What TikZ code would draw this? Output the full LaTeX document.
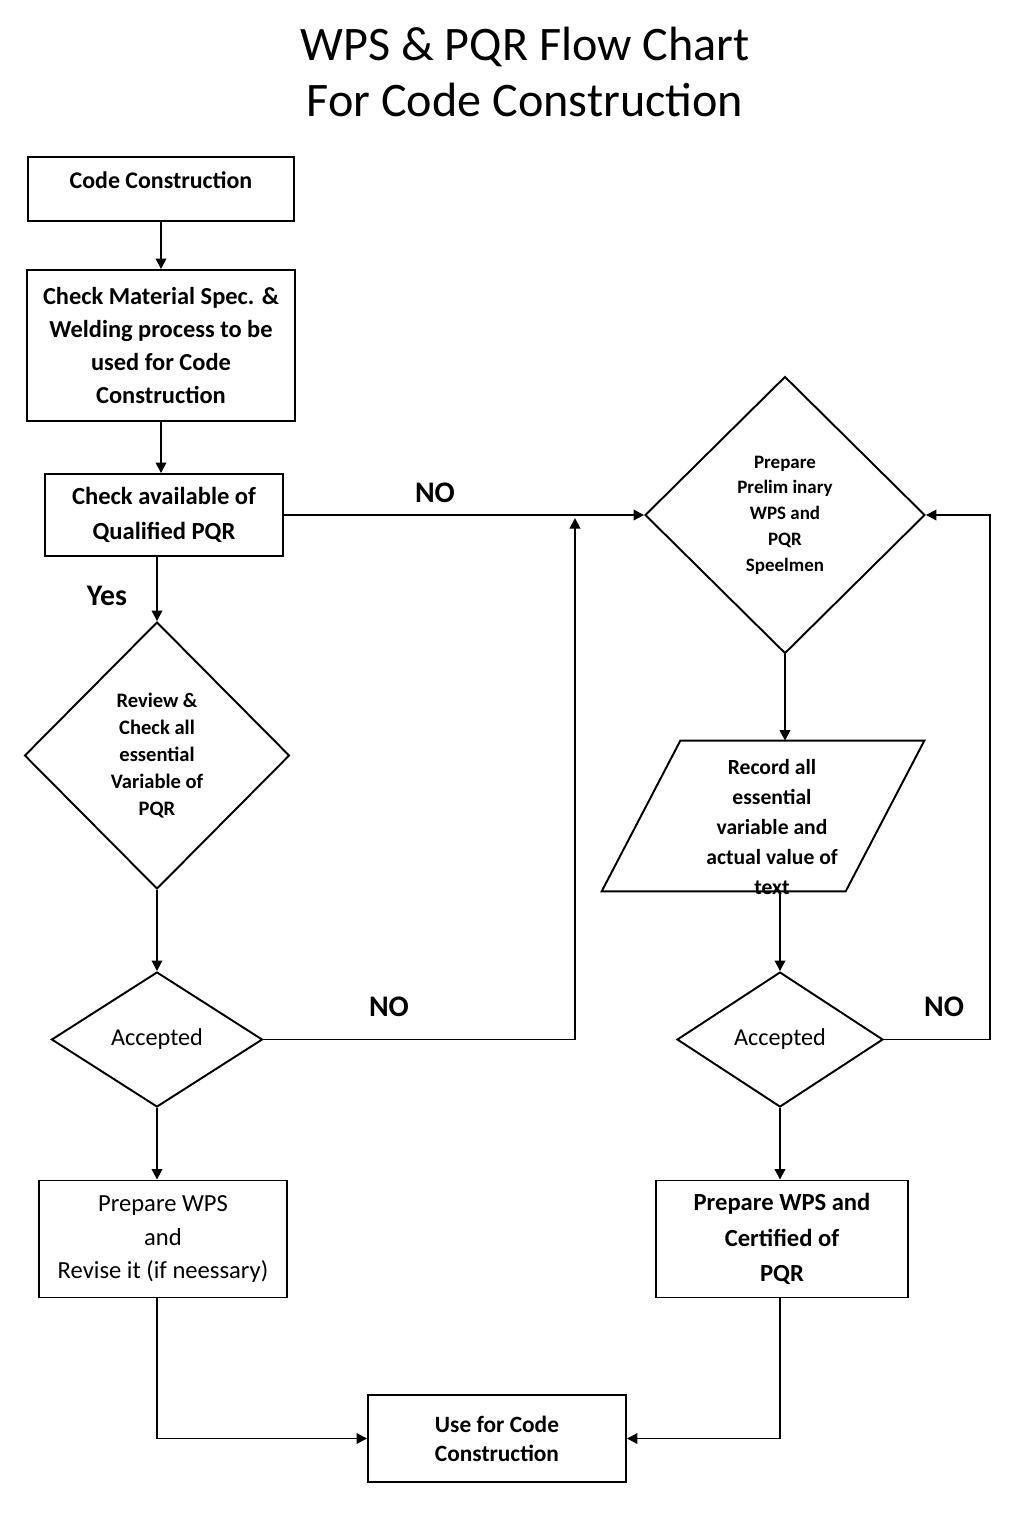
\documentclass[tikz,border=0pt]{standalone}
\usepackage{fontspec}
\setmainfont{Carlito}
\usetikzlibrary{shapes.geometric,arrows.meta}

\begin{document}
\begin{tikzpicture}[x=0.02cm,y=-0.02cm,
	box/.style={draw,line width=1.1pt,align=center,font=\bfseries\fontsize{13.8}{19}\selectfont},
	plainbox/.style={box,font=\fontsize{14}{19.3}\selectfont},
	decide/.style={draw,diamond,line width=1.1pt,aspect=1,inner sep=0pt,align=center},
	flow/.style={-{Triangle[length=6pt,width=6pt]},line width=1.1pt},
	nolabel/.style={font=\bfseries\fontsize{17}{20}\selectfont}]
	%    \draw[step=50,gray,very thin] (0,0) grid (1024,1536);
	\useasboundingbox (0,0) rectangle (1024,1536);
	
	\node[align=center,font=\fontsize{27.4}{32.3}\selectfont] (title) at (525,72) {WPS \& PQR Flow Chart\\For Code Construction};
	
	% left column
	\node[box,minimum width=5.32cm,inner ysep=0pt,text height=0.62cm,text depth=0.66cm,font=\bfseries\fontsize{13.6}{19}\selectfont] (code) at (161,189) {Code Construction};
	\node[box,minimum width=5.36cm,minimum height=3.02cm,font=\bfseries\fontsize{13.9}{18.7}\selectfont] (check) at (161,345.5) {Check Material Spec. \&\\Welding process to be\\used for Code\\Construction};
	\node[box,minimum width=4.76cm,minimum height=1.64cm,font=\bfseries\fontsize{14}{19.8}\selectfont] (avail) at (164,515) {Check available of\\Qualified PQR};
	\node[decide,minimum width=5.3cm,minimum height=5.34cm,font=\bfseries\fontsize{11.7}{15.3}\selectfont] (review) at (157,755.5) {Review \&\\Check all\\essential\\Variable of\\PQR};
	\node[decide,minimum width=4.22cm,minimum height=2.7cm,font=\fontsize{13.8}{15}\selectfont] (acceptL) at (157,1039.5) {Accepted};
	\node[plainbox,minimum width=4.96cm,minimum height=2.34cm] (prepL) at (163,1239) {Prepare WPS\\and\\Revise it (if neessary)};
	
	% right column
	\node[decide,minimum width=5.6cm,minimum height=5.54cm,font=\bfseries\fontsize{10.8}{14.7}\selectfont] (prelim) at (785,515) {Prepare\\Prelim inary\\WPS and\\PQR\\Speelmen};
	\node[minimum width=6.44cm,minimum height=3cm,inner sep=0pt] (record) at (763,816) {};
	\draw[line width=1.1pt] (record.south west) -- ++(244,0) -- (record.north east) -- ++(-244,0) -- cycle;
	\node[align=center,font=\bfseries\fontsize{12.3}{17}\selectfont] (recordtxt) at (772,827) {Record all\\essential\\variable and\\actual value of\\text};
	\node[decide,minimum width=4.12cm,minimum height=2.7cm,font=\fontsize{13.8}{15}\selectfont] (acceptR) at (780,1039.5) {Accepted};
	\node[box,minimum width=5.04cm,minimum height=2.34cm,font=\bfseries\fontsize{14}{20}\selectfont] (prepR) at (782,1239) {Prepare WPS and\\Certified of\\PQR};
	
	\node[box,minimum width=5.16cm,minimum height=1.74cm,font=\bfseries\fontsize{13.3}{16.4}\selectfont] (use) at (497,1438.5) {Use for Code\\Construction};
	
	\node[nolabel] (yes) at (107,596) {Yes};
	\node[nolabel] (noA) at (435,493) {NO};
	\node[nolabel] (noB) at (389,1007) {NO};
	\node[nolabel] (noC) at (944,1007) {NO};
	
	\coordinate (upL) at (575,518);
	\coordinate (loopR) at (990,0);
	
	\draw[flow] (code.south) -- (code.south |- check.north);
	\draw[flow] (check.south) -- (check.south |- avail.north);
	\draw[flow] (avail.south -| review.north) -- (review.north);
	\draw[flow] (review.south) -- (acceptL.north);
	\draw[flow] (acceptL.south) -- (acceptL.south |- prepL.north);
	\draw[flow] (prepL.south -| acceptL.south) |- (use.west);
	\draw[flow] (acceptL.east) -| (upL);
	\draw[flow] (avail.east) -- (prelim.west);
	\draw[flow] (prelim.south) -- (prelim.south |- record.north);
	\draw[flow] (record.south -| acceptR.north) -- (acceptR.north);
	\draw[flow] (acceptR.south) -- (acceptR.south |- prepR.north);
	\draw[flow] (prepR.south -| acceptR.south) |- (use.east);
	\draw[flow] (acceptR.east) -- (acceptR.east -| loopR) |- (prelim.east);
	
\end{tikzpicture}
\end{document}
